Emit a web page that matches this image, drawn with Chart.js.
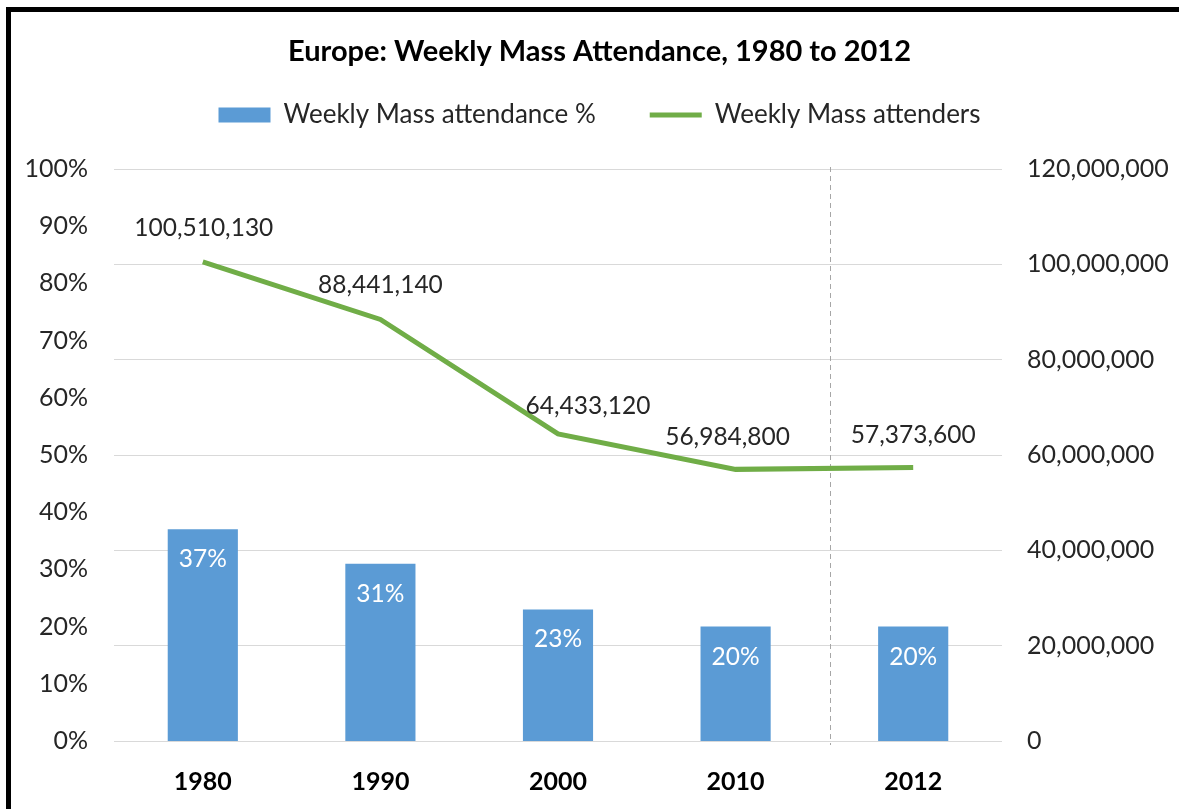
<!DOCTYPE html>
<html>
<head>
<meta charset="utf-8">
<script src="https://cdn.jsdelivr.net/npm/chart.js@4"></script>
<style>
  html, body { margin: 0; padding: 0; background: #fff; }
  #wrap { position: relative; width: 1179px; height: 809px; overflow: hidden; }
  #frame { position: absolute; left: 6px; top: 7px; width: 1200px; height: 820px;
           border-top: 5px solid #000; border-left: 5px solid #000; pointer-events: none; }
</style>
</head>
<body>
<div id="wrap">
  <canvas id="chart" width="1179" height="809"></canvas>
  <div id="frame"></div>
</div>
<script>
// values
const years = ['1980', '1990', '2000', '2010', '2012'];
const attendancePct = [37, 31, 23, 20, 20];
const attenders = [100510130, 88441140, 64433120, 56984800, 57373600];
const pctTicks = [0, 10, 20, 30, 40, 50, 60, 70, 80, 90, 100];
const countTicks = [0, 20000000, 40000000, 60000000, 80000000, 100000000, 120000000];

const textColor = '#262626';
Chart.defaults.font.family = 'Lato, "Open Sans", sans-serif';
Chart.defaults.color = textColor;

// labels on bars (inside, white) and above the line points
const valueLabels = {
  id: 'valueLabels',
  afterDatasetsDraw(chart, args, opts) {
    const ctx = chart.ctx;
    const bars = chart.getDatasetMeta(0).data;
    const points = chart.getDatasetMeta(1).data;
    ctx.save();
    ctx.font = '24.5px ' + Chart.defaults.font.family;
    ctx.textAlign = 'center';
    ctx.textBaseline = 'middle';
    ctx.fillStyle = '#ffffff';
    bars.forEach((bar, i) => {
      ctx.fillText(attendancePct[i] + '%', bar.x, bar.y + 30);
    });
    ctx.fillStyle = textColor;
    points.forEach((pt, i) => {
      ctx.fillText(attenders[i].toLocaleString('en-US'), pt.x + opts.shiftX[i], pt.y - 33 + opts.shiftY[i]);
    });
    ctx.restore();
  }
};

// dashed separator between 2010 and 2012
const separator = {
  id: 'separator',
  beforeDatasetsDraw(chart) {
    const ctx = chart.ctx;
    const area = chart.chartArea;
    const x = Math.round(chart.scales.x.getPixelForValue(3.53)) + 0.5;
    ctx.save();
    ctx.strokeStyle = '#a6a6a6';
    ctx.lineWidth = 1;
    ctx.setLineDash([5, 4]);
    ctx.beginPath();
    ctx.moveTo(x, area.top - 2);
    ctx.lineTo(x, area.bottom + 4);
    ctx.stroke();
    ctx.restore();
  }
};

new Chart(document.getElementById('chart'), {
  type: 'bar',
  data: {
    labels: years,
    datasets: [
      {
        type: 'bar',
        label: 'Weekly Mass attendance %',
        data: attendancePct,
        backgroundColor: '#5b9bd5',
        borderWidth: 0,
        yAxisID: 'y',
        barPercentage: 0.395,
        categoryPercentage: 1,
        pointStyle: 'rect',
        order: 1
      },
      {
        type: 'line',
        label: 'Weekly Mass attenders',
        data: attenders,
        borderColor: '#70ad47',
        backgroundColor: '#70ad47',
        borderWidth: 5,
        pointRadius: 0,
        tension: 0,
        yAxisID: 'y1',
        pointStyle: 'line',
        order: 0
      }
    ]
  },
  options: {
    responsive: false,
    animation: false,
    events: [],
    layout: { padding: { left: 20, right: 0, top: 0, bottom: 15 } },
    plugins: {
      title: {
        display: true,
        text: 'Europe: Weekly Mass Attendance, 1980 to 2012',
        color: '#000',
        font: { size: 29, weight: 'bold', lineHeight: 1.2 },
        padding: { top: 34, bottom: -20.8 }
      },
      legend: {
        display: true,
        position: 'top',
        labels: {
          usePointStyle: true,
          pointStyleWidth: 52,
          boxHeight: 15,
          padding: 54,
          color: textColor,
          font: { size: 26 },
          sort: (a, b) => a.datasetIndex - b.datasetIndex
        }
      },
      subtitle: {
        display: true,
        text: '',
        weight: 500,
        font: { size: 31, lineHeight: 1 },
        padding: 0
      },
      tooltip: { enabled: false },
      valueLabels: { shiftX: [1, 0, 30, -8, 0], shiftY: [-1, -1, 5, 1, 1] }
    },
    scales: {
      x: {
        afterFit(scale) { scale.height = 53; },
        grid: { display: false, drawTicks: false },
        border: { display: false },
        ticks: { padding: 26, maxRotation: 0, color: '#000', font: { size: 25, weight: 'bold' } }
      },
      y: {
        position: 'left',
        min: 0,
        max: 100,
        afterBuildTicks(scale) { scale.ticks = pctTicks.map(v => ({ value: v })); },
        afterFit(scale) { scale.width = 94; },
        grid: { display: false, drawTicks: false },
        border: { display: false },
        ticks: { padding: 26, font: { size: 25 }, callback: v => v + '%' }
      },
      y1: {
        position: 'right',
        min: 0,
        max: 120000000,
        afterBuildTicks(scale) { scale.ticks = countTicks.map(v => ({ value: v })); },
        afterFit(scale) { scale.width = 177; },
        grid: { display: true, drawTicks: false, color: '#d9d9d9', lineWidth: 1 },
        border: { display: false },
        ticks: { padding: 25, font: { size: 25 }, callback: v => v.toLocaleString('en-US') }
      }
    }
  },
  plugins: [valueLabels, separator]
});
</script>
</body>
</html>
